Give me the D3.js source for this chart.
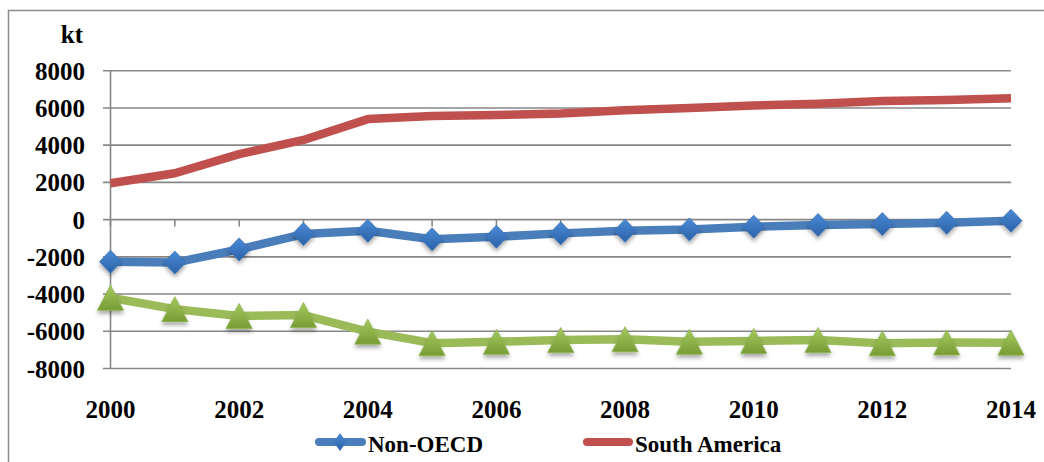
<!DOCTYPE html>
<html>
<head>
<meta charset="utf-8">
<script src="https://cdn.jsdelivr.net/npm/d3@7"></script>
<style>
  html, body { margin: 0; padding: 0; background: #fff; }
  svg { display: block; }
</style>
</head>
<body>
<svg id="chart" width="1044" height="462"></svg>
<script>
const years = [2000,2001,2002,2003,2004,2005,2006,2007,2008,2009,2010,2011,2012,2013,2014];
const nonOECD = [-2260,-2310,-1600,-780,-600,-1060,-920,-740,-600,-530,-380,-290,-240,-170,-60];
const southAmerica = [1950,2490,3520,4280,5400,5560,5620,5700,5870,6000,6130,6230,6370,6420,6520];
const thirdSeries = [-4200,-4810,-5180,-5130,-6020,-6640,-6560,-6470,-6430,-6560,-6520,-6470,-6650,-6600,-6610];
const yTicks = [8000,6000,4000,2000,0,-2000,-4000,-6000,-8000];
const xTickLabels = [2000,2002,2004,2006,2008,2010,2012,2014];
const unitLabel = "kt";
const legendNames = ["Non-OECD", "South America"];

const FONT = '"Liberation Serif", "Times New Roman", serif';

const svg = d3.select("#chart");
const x = d3.scaleLinear().domain([2000, 2014]).range([110.5, 1011]);
const y = d3.scaleLinear().domain([-8000, 8000]).range([368.5, 70.7]);

const defs = svg.append("defs");
const shadow = defs.append("filter").attr("id", "shadow")
  .attr("x", "-50%").attr("y", "-50%").attr("width", "200%").attr("height", "200%");
shadow.append("feDropShadow").attr("dx", 0).attr("dy", 3).attr("stdDeviation", 2)
  .attr("flood-color", "#000").attr("flood-opacity", 0.35);
const gBlue = defs.append("linearGradient").attr("id", "gBlue").attr("x1", 0).attr("y1", 0).attr("x2", 0).attr("y2", 1);
gBlue.append("stop").attr("offset", "0%").attr("stop-color", "#4a8ad6");
gBlue.append("stop").attr("offset", "100%").attr("stop-color", "#2c62a8");
const gGreen = defs.append("linearGradient").attr("id", "gGreen").attr("x1", 0).attr("y1", 0).attr("x2", 0).attr("y2", 1);
gGreen.append("stop").attr("offset", "0%").attr("stop-color", "#a6c95f");
gGreen.append("stop").attr("offset", "100%").attr("stop-color", "#789c34");

// outer chart border (continues past the picture edges)
svg.append("rect").attr("x", 8.5).attr("y", 10.5).attr("width", 1060).attr("height", 480)
  .attr("fill", "none").attr("stroke", "#8c8c8c").attr("stroke-width", 1.5);

const gridColor = "#878787";
svg.append("g").selectAll("line").data(yTicks).join("line")
  .attr("x1", 103).attr("x2", x(2014))
  .attr("y1", d => y(d)).attr("y2", d => y(d))
  .attr("stroke", gridColor).attr("stroke-width", 1.6);
svg.append("line").attr("x1", x(2000)).attr("x2", x(2000)).attr("y1", y(8000)).attr("y2", y(-8000))
  .attr("stroke", gridColor).attr("stroke-width", 1.6);
svg.append("g").selectAll("line").data(years).join("line")
  .attr("x1", d => x(d)).attr("x2", d => x(d))
  .attr("y1", y(0)).attr("y2", y(0) + 7)
  .attr("stroke", gridColor).attr("stroke-width", 1.6);

function styleText(sel, size) {
  return sel.style("font-family", FONT).style("font-weight", "bold")
    .style("font-size", size + "px").attr("fill", "#000");
}

styleText(svg.append("g").selectAll("text").data(yTicks).join("text")
  .attr("x", 85).attr("y", d => y(d) + 9)
  .attr("text-anchor", "end"), 25)
  .text(d => d);
styleText(svg.append("text").attr("x", 83).attr("y", 43).attr("text-anchor", "end"), 25).text(unitLabel);

styleText(svg.append("g").selectAll("text").data(xTickLabels).join("text")
  .attr("x", d => x(d)).attr("y", 418)
  .attr("text-anchor", "middle"), 25)
  .text(d => d);

const line = d3.line().x((d, i) => x(years[i])).y(d => y(d));
const blue = "#4a7ebb", red = "#c0504d", green = "#9bbb59";

svg.append("path").datum(southAmerica).attr("d", line)
  .attr("fill", "none").attr("stroke", red).attr("stroke-width", 8.5).attr("stroke-linejoin", "round");
svg.append("path").datum(nonOECD).attr("d", line)
  .attr("fill", "none").attr("stroke", blue).attr("stroke-width", 8.5).attr("stroke-linejoin", "round");
svg.append("path").datum(thirdSeries).attr("d", line)
  .attr("fill", "none").attr("stroke", green).attr("stroke-width", 8.5).attr("stroke-linejoin", "round");

const diamond = "M0,-11.5L11,0L0,11.5L-11,0Z";
const triangle = "M0,-12.5L13,12.5L-13,12.5Z";

svg.append("g").selectAll("path").data(nonOECD).join("path")
  .attr("d", diamond)
  .attr("transform", (d, i) => `translate(${x(years[i])},${y(d)})`)
  .attr("fill", "url(#gBlue)").attr("stroke", "#3d73b5").attr("stroke-width", 0.8)
  .attr("filter", "url(#shadow)");
svg.append("g").selectAll("path").data(thirdSeries).join("path")
  .attr("d", triangle)
  .attr("transform", (d, i) => `translate(${x(years[i])},${y(d)})`)
  .attr("fill", "url(#gGreen)").attr("stroke", "#8db24a").attr("stroke-width", 0.8)
  .attr("filter", "url(#shadow)");

const leg = svg.append("g");
leg.append("line").attr("x1", 319).attr("x2", 362).attr("y1", 442).attr("y2", 442)
  .attr("stroke", blue).attr("stroke-width", 8).attr("stroke-linecap", "round");
leg.append("path").attr("d", "M0,-9L6.5,0L0,9L-6.5,0Z").attr("transform", "translate(340,442)")
  .attr("fill", "url(#gBlue)");
styleText(leg.append("text").attr("x", 368).attr("y", 452), 23).text(legendNames[0]);
leg.append("line").attr("x1", 587).attr("x2", 629).attr("y1", 442).attr("y2", 442)
  .attr("stroke", red).attr("stroke-width", 8).attr("stroke-linecap", "round");
styleText(leg.append("text").attr("x", 635).attr("y", 452), 23).text(legendNames[1]);
</script>
</body>
</html>
